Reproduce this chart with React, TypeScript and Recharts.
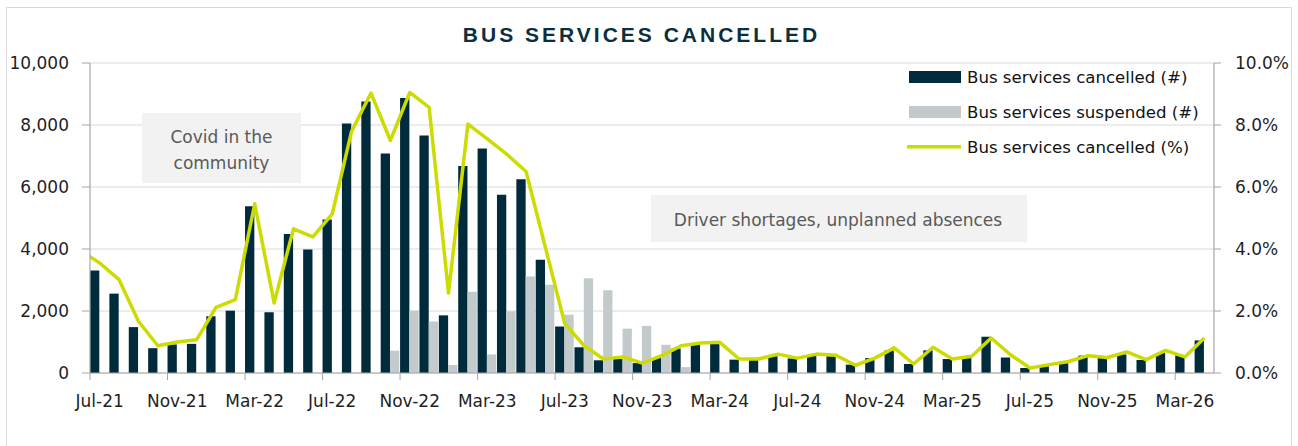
import React from 'react';
import { ComposedChart, Bar, Line, XAxis, YAxis, CartesianGrid } from 'recharts';

// Months (Jun-21 sits just before the axis start and is clipped, as in the source)
const months = [
  'Jun-21', 'Jul-21', 'Aug-21', 'Sep-21', 'Oct-21', 'Nov-21', 'Dec-21',
  'Jan-22', 'Feb-22', 'Mar-22', 'Apr-22', 'May-22', 'Jun-22', 'Jul-22', 'Aug-22', 'Sep-22', 'Oct-22', 'Nov-22', 'Dec-22',
  'Jan-23', 'Feb-23', 'Mar-23', 'Apr-23', 'May-23', 'Jun-23', 'Jul-23', 'Aug-23', 'Sep-23', 'Oct-23', 'Nov-23', 'Dec-23',
  'Jan-24', 'Feb-24', 'Mar-24', 'Apr-24', 'May-24', 'Jun-24', 'Jul-24', 'Aug-24', 'Sep-24', 'Oct-24', 'Nov-24', 'Dec-24',
  'Jan-25', 'Feb-25', 'Mar-25', 'Apr-25', 'May-25', 'Jun-25', 'Jul-25', 'Aug-25', 'Sep-25', 'Oct-25', 'Nov-25', 'Dec-25',
  'Jan-26', 'Feb-26', 'Mar-26', 'Apr-26',
];

const cancelled = [
  null,
  3310, 2560, 1480, 800, 920, 940,
  1830, 2010, 5380, 1960, 4480, 3980, 4950, 8050, 8760, 7080, 8870, 7660,
  1860, 6680, 7240, 5750, 6250, 3650, 1500, 830, 410, 450, 320, 480,
  790, 920, 950, 430, 430, 540, 470, 580, 540, 270, 480, 730,
  290, 730, 450, 480, 1170, 500, 160, 215, 320, 560, 500, 600,
  420, 645, 575, 1050,
];

const suspended = [
  null,
  0, 0, 0, 0, 0, 0,
  0, 0, 0, 0, 0, 0, 0, 0, 0, 720, 2010, 1660,
  260, 2620, 600, 1990, 3110, 2850, 1880, 3060, 2670, 1430, 1520, 910,
  190, 0, 0, 0, 0, 0, 0, 0, 0, 0, 0, 0,
  0, 0, 0, 0, 0, 0, 0, 0, 0, 0, 0, 0,
  0, 0, 0, 0,
];

const pctCancelled = [
  3.95,
  3.55, 3.01, 1.67, 0.88, 1.0, 1.07,
  2.12, 2.37, 5.46, 2.26, 4.65, 4.39, 5.13, 7.8, 9.03, 7.5, 9.05, 8.57,
  2.58, 8.03, 7.55, 7.06, 6.5, 4.05, 1.59, 0.88, 0.45, 0.52, 0.32, 0.56,
  0.88, 0.97, 0.99, 0.45, 0.45, 0.61, 0.48, 0.61, 0.57, 0.25, 0.48, 0.81,
  0.29, 0.83, 0.45, 0.54, 1.13, 0.59, 0.16, 0.27, 0.37, 0.56, 0.5, 0.68,
  0.43, 0.73, 0.52, 1.13,
];

const xLabelMonths = [
  'Jul-21', 'Nov-21', 'Mar-22', 'Jul-22', 'Nov-22', 'Mar-23', 'Jul-23', 'Nov-23',
  'Mar-24', 'Jul-24', 'Nov-24', 'Mar-25', 'Jul-25', 'Nov-25', 'Mar-26',
];
const leftTicks = [0, 2000, 4000, 6000, 8000, 10000];
const rightTicks = [0, 2, 4, 6, 8, 10];

const seriesNames = ['Bus services cancelled (#)', 'Bus services suspended (#)', 'Bus services cancelled (%)'];
const title = 'BUS SERVICES CANCELLED';
const notes = [['Covid in the', 'community'], ['Driver shortages, unplanned absences']];

const DARK = '#002b3c';
const GREY = '#c3cacc';
const LIME = '#cddc00';
const AXIS = '#a6a6a6';
const GRID = '#d5dadc';
const FONT = '"DejaVu Sans", sans-serif';

// x position: month index k maps to k - 0.5 so Jul-21 occupies [0,1]
const data = months.map((m, k) => ({
  month: m,
  x: k - 0.5,
  cancelled: cancelled[k],
  suspended: suspended[k],
  pct: pctCancelled[k],
}));

const firstIdx = months.indexOf('Jul-21');
const xTicks: number[] = [];
xLabelMonths.forEach((m) => {
  const k = months.indexOf(m);
  xTicks.push(k - firstIdx); // boundary (tick mark)
  xTicks.push(k - 0.5); // centre (label)
});
const xDomainMax = months.length - firstIdx;

const XTick = (props: any) => {
  const { x, y, payload } = props;
  const v = payload.value as number;
  if (Number.isInteger(v)) {
    return <line x1={x} x2={x} y1={y} y2={y + 7} stroke={AXIS} strokeWidth={1} />;
  }
  const label = months[Math.round(v + 0.5)];
  return (
    <text x={x} y={y + 34} textAnchor="middle" fontFamily={FONT} fontSize={17} fill="#1f1f1f">
      {label}
    </text>
  );
};

export default function App() {
  return (
    <div style={{ position: 'fixed', left: 0, top: 0, width: 1298, height: 446, background: '#fff', overflow: 'hidden' }}>
      <ComposedChart
        width={1298}
        height={446}
        data={data}
        margin={{ top: 63, right: 0, bottom: 33, left: 0 }}
        barGap={0}
      >
        <CartesianGrid yAxisId="left" vertical={false} stroke={GRID} strokeWidth={1.2} />
        <XAxis
          dataKey="x"
          type="number"
          domain={[0, xDomainMax]}
          allowDataOverflow
          ticks={xTicks}
          interval={0}
          tick={<XTick />}
          tickLine={false}
          tickSize={0}
          tickMargin={0}
          height={40}
          axisLine={{ stroke: AXIS, strokeWidth: 1.2 }}
        />
        <YAxis
          yAxisId="left"
          domain={[0, 10000]}
          ticks={leftTicks}
          width={90}
          tickSize={8}
          tickMargin={13}
          tickFormatter={(v: number) => v.toLocaleString('en-US')}
          tick={{ fontFamily: FONT, fontSize: 17, fill: '#1f1f1f' }}
          axisLine={{ stroke: AXIS, strokeWidth: 1.2 }}
          tickLine={{ stroke: AXIS }}
        />
        <YAxis
          yAxisId="right"
          orientation="right"
          domain={[0, 10]}
          ticks={rightTicks}
          width={84}
          tickSize={7}
          tickMargin={14}
          tickFormatter={(v: number) => `${v.toFixed(1)}%`}
          tick={{ fontFamily: FONT, fontSize: 17, fill: '#1f1f1f' }}
          axisLine={{ stroke: AXIS, strokeWidth: 1.2 }}
          tickLine={{ stroke: AXIS }}
        />
        <Bar yAxisId="left" dataKey="cancelled" name={seriesNames[0]} fill={DARK} barSize={9.3} isAnimationActive={false} />
        <Bar yAxisId="left" dataKey="suspended" name={seriesNames[1]} fill={GREY} barSize={9.3} isAnimationActive={false} />
        <Line
          yAxisId="right"
          dataKey="pct"
          name={seriesNames[2]}
          stroke={LIME}
          strokeWidth={3.5}
          strokeLinejoin="round"
          dot={false}
          activeDot={false}
          isAnimationActive={false}
        />
      </ComposedChart>
      <svg
        width={1298}
        height={446}
        style={{ position: 'absolute', left: 0, top: 0, pointerEvents: 'none' }}
      >
        {/* chart frame */}
        <path d="M6.5,446 L6.5,7.5 L1291.5,7.5 L1291.5,446" fill="none" stroke="#d9d9d9" strokeWidth={1} />
        {/* title */}
        <text
          x={641.5}
          y={42}
          textAnchor="middle"
          fontFamily='"Liberation Sans", Arial, sans-serif'
          fontWeight={700}
          fontSize={21}
          letterSpacing={3}
          fill="#0b2f3e"
        >
          {title}
        </text>
        {/* annotation boxes */}
        <rect x={142} y={113} width={159} height={70} fill="#f2f2f2" />
        <text x={221.5} y={143} textAnchor="middle" fontFamily={FONT} fontSize={17} fill="#595959">
          {notes[0][0]}
        </text>
        <text x={221.5} y={169} textAnchor="middle" fontFamily={FONT} fontSize={17} fill="#595959">
          {notes[0][1]}
        </text>
        <rect x={651} y={195} width={376} height={47} fill="#f2f2f2" />
        <text x={838} y={226} textAnchor="middle" fontFamily={FONT} fontSize={17} fill="#595959">
          {notes[1][0]}
        </text>
        {/* legend */}
        <rect x={909} y={71} width={52} height={12} fill={DARK} />
        <text x={967} y={83} fontFamily={FONT} fontSize={16.6} fill="#111">{seriesNames[0]}</text>
        <rect x={909} y={106} width={52} height={12} fill={GREY} />
        <text x={967} y={118} fontFamily={FONT} fontSize={16.6} fill="#111">{seriesNames[1]}</text>
        <line x1={907} x2={961} y1={146.7} y2={146.7} stroke={LIME} strokeWidth={3.5} />
        <text x={967} y={153} fontFamily={FONT} fontSize={16.6} fill="#111">{seriesNames[2]}</text>
      </svg>
    </div>
  );
}
